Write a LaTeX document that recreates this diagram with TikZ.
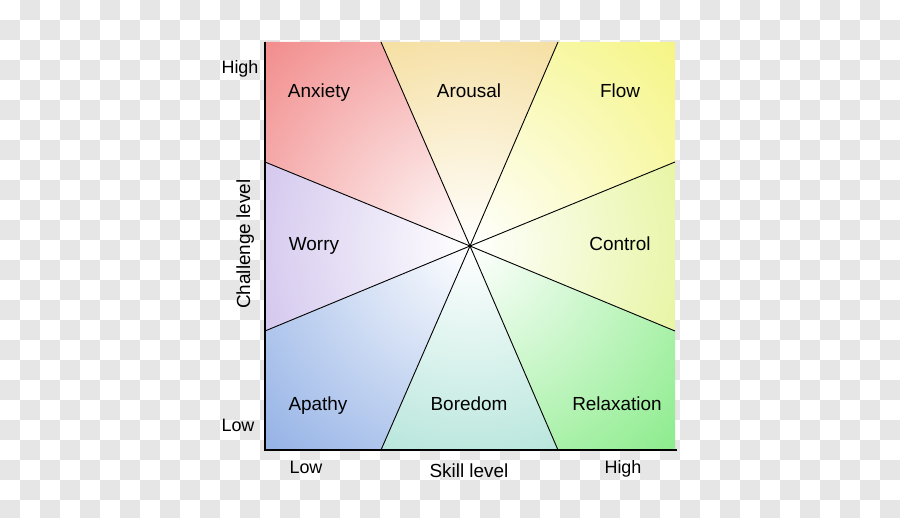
\documentclass[tikz,border=0pt]{standalone}
\usepackage{fontspec}
\setmainfont{Liberation Sans}
\definecolor{chequer}{HTML}{E6E6E6}
\definecolor{anxietycol}{HTML}{F28C8C}
\definecolor{arousalcol}{HTML}{F5DFA2}
\definecolor{flowcol}{HTML}{F5F585}
\definecolor{controlcol}{HTML}{E8F5A5}
\definecolor{relaxcol}{HTML}{8CEC8C}
\definecolor{boredomcol}{HTML}{B8E6DC}
\definecolor{apathycol}{HTML}{94B2E6}
\definecolor{worrycol}{HTML}{D4C8EE}

\begin{document}
\begin{tikzpicture}[x=1bp,y=-1bp,
   zone label/.style={font=\fontsize{19}{21}\selectfont,anchor=base},
   tick label/.style={font=\fontsize{18}{20}\selectfont,anchor=base},
   spoke/.style={draw=black,line width=0.9bp},
   axis line/.style={draw=black,line width=2bp}]
\useasboundingbox (0,0) rectangle (900,518);
% backdrop
\fill[white] (0,0) rectangle (900,518);
\foreach \i in {0,2,...,44}
  \foreach \j in {1,3,...,25}
    \fill[chequer] (20*\i,20*\j) rectangle ++(20,20);
\foreach \i in {1,3,...,43}
  \foreach \j in {0,2,...,24}
    \fill[chequer] (20*\i,20*\j) rectangle ++(20,20);
\fill[white] (265,42) rectangle (675,450);
% corners and edge points
\coordinate (O) at (470,246);
\coordinate (tl) at (265,42);
\coordinate (t1) at (381,42);
\coordinate (t2) at (558,42);
\coordinate (tr) at (675,42);
\coordinate (r1) at (675,162);
\coordinate (r2) at (675,331);
\coordinate (br) at (675,450);
\coordinate (b2) at (558,450);
\coordinate (b1) at (381,450);
\coordinate (bl) at (265,450);
\coordinate (l2) at (265,331);
\coordinate (l1) at (265,162);
\coordinate (axisend) at (677,450);
% zones
\foreach \a/\b/\c/\col/\rad in {t1/tl/l1/anxietycol/289,
                                t1/t2/t2/arousalcol/222,
                                t2/tr/r1/flowcol/289,
                                r1/r2/r2/controlcol/221,
                                r2/br/b2/relaxcol/289,
                                b2/b1/b1/boredomcol/222,
                                b1/bl/l2/apathycol/289,
                                l2/l1/l1/worrycol/221}{
  \begin{scope}
    \clip (O) -- (\a) -- (\b) -- (\c) -- cycle;
    \shade[inner color=white,outer color=\col] (O) circle (\rad bp);
  \end{scope}}
\foreach \p in {t1,t2,r1,r2,b2,b1,l2,l1}
  \draw[spoke] (O) -- (\p);
\draw[axis line] (tl) -- (bl) -- (axisend);
% labels
\node[zone label] (anxiety) at (319,98) {Anxiety};
\node[zone label] (arousal) at (469,98) {Arousal};
\node[zone label] (flow) at (620,98) {Flow};
\node[zone label] (worry) at (314,251) {Worry};
\node[zone label] (control) at (620,251) {Control};
\node[zone label] (apathy) at (318,410) {Apathy};
\node[zone label] (boredom) at (469,410) {Boredom};
\node[zone label] (relax) at (617,410) {Relaxation};
\node[tick label] (yhigh) at (240,74) {High};
\node[tick label] (ylow) at (238,431) {Low};
\node[tick label] (xlow) at (306,473) {Low};
\node[tick label] (xhigh) at (623,473) {High};
\node[zone label] (skill) at (469,477) {Skill level};
\node[zone label,rotate=90] (challenge) at (250,244) {Challenge level};
\end{tikzpicture}
\end{document}
